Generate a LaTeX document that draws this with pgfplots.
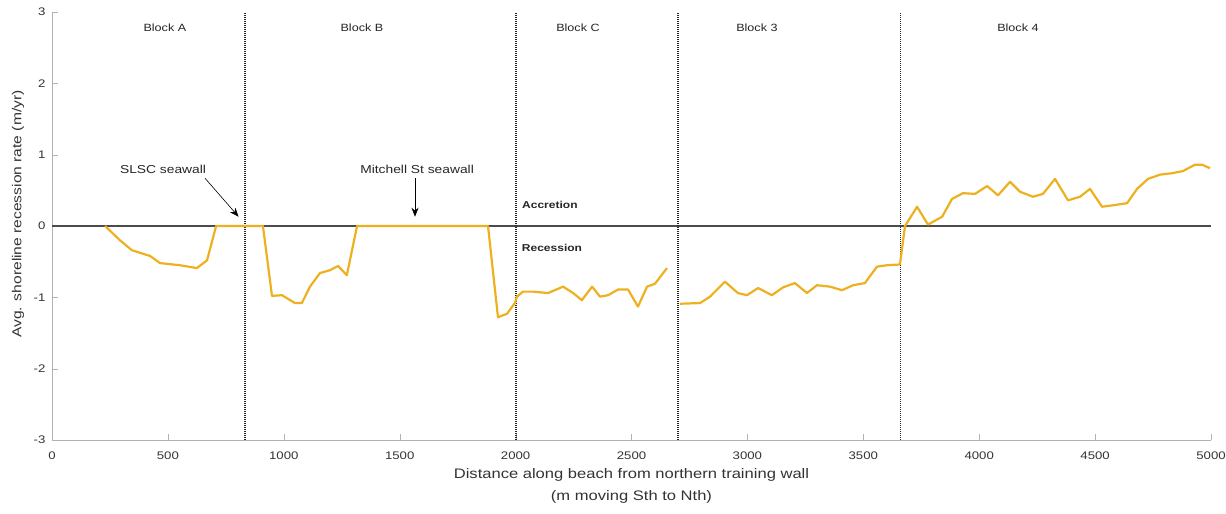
\documentclass[border=0pt]{standalone}
\usepackage{pgfplots}
\pgfplotsset{compat=1.18}
\usepackage{fontspec}
\setmainfont{Liberation Sans}[FakeStretch=1.2]
\usetikzlibrary{arrows.meta}
\definecolor{rateyellow}{rgb}{0.929,0.694,0.125}

\begin{document}
\begin{tikzpicture}
\begin{axis}[
    scale only axis, width=1159pt, height=428pt,
    xmin=0, xmax=5000, ymin=-3, ymax=3,
    axis x line*=bottom, axis y line*=left,
    axis line style={gray!60, line width=0.8pt},
    xtick={0,500,...,5000}, ytick={-3,-2,...,3},
    tick align=inside, major tick length=6pt,
    tick style={gray!60},
    /pgf/number format/assume math mode=true,
    /pgf/number format/1000 sep={},
    tick label style={font=\fontsize{11}{13}\selectfont, text=black!80},
    xticklabel style={yshift=-8pt, inner xsep=0pt},
    yticklabel style={xshift=-3pt},
    xlabel={Distance along beach from northern training wall\\(m moving Sth to Nth)},
    xlabel style={at={(axis description cs:0.5,-0.1075)}, anchor=center, align=center,
                  font=\fontsize{13.8}{22}\selectfont, text=black!80},
    ylabel={Avg. shoreline recession rate (m/yr)},
    ylabel style={at={(axis description cs:-0.0293,0.528)}, anchor=center,
                  font=\fontsize{13}{15}\selectfont, text=black!80},
    clip=false,
]
% zero line
\addplot[black!70, line width=2pt] coordinates {(0,0) (5000,0)};
% block boundaries
\pgfplotsset{blockline/.style={black!85, line width=1.6pt, dash pattern=on 1pt off 1pt}}
\addplot[blockline] coordinates {(833,-3) (833,3)};
\addplot[blockline] coordinates {(2002,-3) (2002,3)};
\addplot[blockline] coordinates {(2700,-3) (2700,3)};
\addplot[blockline] coordinates {(3660,-3) (3660,3)};

% shoreline rate
\addplot[rateyellow, line width=2.2pt, line join=round] coordinates {
(229,0) (293,-0.2) (345,-0.34) (423,-0.42) (466,-0.52) (552,-0.55)
(625,-0.59) (669,-0.48) (708,0) (910,0)
(949,-0.98) (992,-0.97) (1048,-1.08) (1078,-1.08) (1113,-0.85)
(1156,-0.66) (1199,-0.62) (1234,-0.56) (1272,-0.69) (1316,0) (1881,0)
(1924,-1.28) (1963,-1.23) (1997,-1.08) (2006,-0.99) (2032,-0.92)
(2075,-0.92) (2140,-0.94) (2205,-0.85) (2248,-0.94) (2286,-1.04)
(2330,-0.85) (2364,-0.99) (2399,-0.97) (2442,-0.89) (2485,-0.89)
(2528,-1.13) (2567,-0.85) (2601,-0.81) (2653,-0.59)
};
\addplot[rateyellow, line width=2.2pt, line join=round] coordinates {
(2709,-1.09) (2796,-1.08) (2839,-0.99) (2903,-0.78) (2959,-0.94)
(2998,-0.97) (3046,-0.87) (3106,-0.97) (3154,-0.86) (3205,-0.80)
(3257,-0.94) (3300,-0.83) (3356,-0.85) (3408,-0.90) (3456,-0.83)
(3507,-0.80) (3559,-0.57) (3602,-0.55) (3658,-0.54) (3680,0)
(3732,0.27) (3779,0.02) (3840,0.13) (3883,0.38) (3930,0.46)
(3982,0.45) (4034,0.56) (4081,0.43) (4133,0.62) (4176,0.48)
(4232,0.41) (4275,0.45) (4327,0.66) (4383,0.36) (4435,0.41)
(4478,0.52) (4530,0.27) (4577,0.29) (4638,0.32) (4681,0.52)
(4728,0.66) (4780,0.72) (4832,0.74) (4879,0.77) (4931,0.86)
(4961,0.86) (4996,0.81)
};

\begin{scope}[font=\fontsize{10.5}{13}\selectfont, text=black!85]
\node at (axis cs:487,2.78) {Block A};
\node at (axis cs:1337,2.78) {Block B};
\node at (axis cs:2269,2.78) {Block C};
\node at (axis cs:3041,2.78) {Block 3};
\node at (axis cs:4167,2.78) {Block 4};
\node[font=\fontsize{11.5}{13}\selectfont] at (axis cs:479,0.79) {SLSC seawall};
\node[font=\fontsize{11.5}{13}\selectfont] at (axis cs:1575,0.79) {Mitchell St seawall};
\node[font=\fontsize{10}{13}\selectfont\bfseries] at (axis cs:2148,0.29) {Accretion};
\node[font=\fontsize{10}{13}\selectfont\bfseries] at (axis cs:2157,-0.31) {Recession};
\end{scope}
\draw[-{Stealth[length=9pt,width=7pt]}, black, line width=0.6pt] (axis cs:660,0.67) -- (axis cs:805,0.13);
\draw[-{Stealth[length=9pt,width=7pt]}, black, line width=0.6pt] (axis cs:1566,0.67) -- (axis cs:1566,0.13);
\end{axis}
\path ([xshift=-52pt,yshift=-73pt]current axis.south west) rectangle ([xshift=15pt,yshift=12pt]current axis.north east);
\end{tikzpicture}
\end{document}
